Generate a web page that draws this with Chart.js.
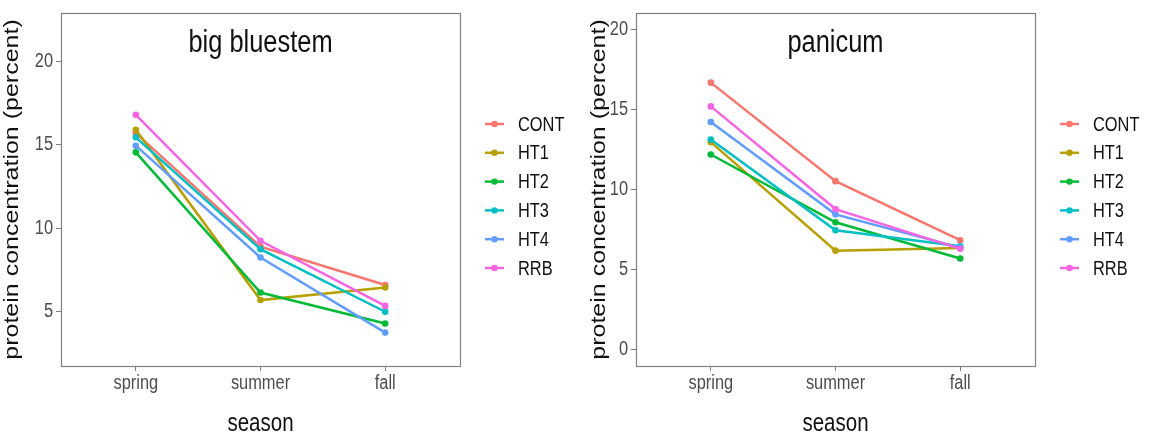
<!DOCTYPE html>
<html>
<head>
<meta charset="utf-8">
<script src="https://cdn.jsdelivr.net/npm/chart.js@4"></script>
<style>
  html, body { margin: 0; padding: 0; background: #fff; }
  #wrap { position: relative; width: 1150px; height: 438px; }
  canvas { position: absolute; top: 0; }
  #left { left: 0; }
  #right { left: 575px; }
</style>
</head>
<body>
<div id="wrap">
  <canvas id="left" width="575" height="438"></canvas>
  <canvas id="right" width="575" height="438"></canvas>
</div>
<script>
// categories
const seasons = ['spring', 'summer', 'fall'];
const treatments = ['CONT', 'HT1', 'HT2', 'HT3', 'HT4', 'RRB'];
const colors = ['#F8766D', '#B79F00', '#00BA38', '#00BFC4', '#619CFF', '#F564E3'];

// big bluestem, protein (%) by season
const bbCONT = [15.7, 8.9, 6.6];
const bbHT1 = [15.9, 5.7, 6.45];
const bbHT2 = [14.55, 6.15, 4.3];
const bbHT3 = [15.45, 8.75, 5.0];
const bbHT4 = [14.95, 8.25, 3.75];
const bbRRB = [16.8, 9.25, 5.35];

// panicum, protein (%) by season
const pnCONT = [16.66, 10.52, 6.84];
const pnHT1 = [12.95, 6.19, 6.35];
const pnHT2 = [12.18, 7.96, 5.7];
const pnHT3 = [13.11, 7.46, 6.46];
const pnHT4 = [14.21, 8.45, 6.38];
const pnRRB = [15.18, 8.78, 6.3];

// tick labels
const bbTicks = [5, 10, 15, 20];
const pnTicks = [0, 5, 10, 15, 20];

const FONT = "'Liberation Sans', Arial, sans-serif";
const SQUEEZE = 0.82; // the source plot is a bit narrow

function makeDatasets(series) {
  return series.map(function(vals, i) {
    return {
      label: treatments[i],
      data: vals.map(function(v, j) { return { x: j, y: v }; }),
      borderColor: colors[i],
      backgroundColor: colors[i],
      borderWidth: 2.5,
      pointRadius: 3.3,
      pointBorderWidth: 0,
      pointHoverRadius: 3.3,
      order: series.length - i
    };
  });
}

// narrow text: squeeze horizontally (or along the glyph height when rotated)
function text(ctx, str, x, y, size, color, align, baseline, rotated) {
  ctx.save();
  ctx.translate(x, y);
  if (rotated) {
    ctx.rotate(-Math.PI / 2);
    ctx.scale(1, SQUEEZE);
  } else {
    ctx.scale(SQUEEZE, 1);
  }
  ctx.font = size + 'px ' + FONT;
  ctx.fillStyle = color;
  ctx.textAlign = align;
  ctx.textBaseline = baseline;
  ctx.fillText(str, 0, 0);
  ctx.restore();
}

// panel border, labels, title inside the panel, legend on the right
const panelPlugin = {
  id: 'panel',
  afterDraw(chart, args, opts) {
    const ctx = chart.ctx;
    const a = chart.chartArea;
    const xs = chart.scales.x;
    const ys = chart.scales.y;
    ctx.save();
    ctx.strokeStyle = '#808080';
    ctx.lineWidth = 1.2;
    ctx.strokeRect(a.left + 0.5, a.top + 0.5, a.right - a.left, a.bottom - a.top);
    ctx.restore();

    text(ctx, opts.title, (a.left + a.right) / 2, 51.5, 31, '#111', 'center', 'alphabetic');

    opts.yTicks.forEach(function(v) {
      text(ctx, String(v), a.left - 8, ys.getPixelForValue(v), 20, '#4d4d4d', 'right', 'middle');
    });
    seasons.forEach(function(s, i) {
      text(ctx, s, xs.getPixelForValue(i), a.bottom + 7, 20, '#4d4d4d', 'center', 'top');
    });
    text(ctx, 'season', (a.left + a.right) / 2, 424, 25, '#111', 'center', 'middle');
    text(ctx, 'protein concentration (percent)', opts.yTitleX, (a.top + a.bottom) / 2,
      25, '#111', 'center', 'middle', true);

    chart.data.datasets.forEach(function(ds, i) {
      const y = 124 + i * 28.8;
      const x0 = a.right + 25;
      ctx.save();
      ctx.strokeStyle = ds.borderColor;
      ctx.lineWidth = 2.5;
      ctx.beginPath();
      ctx.moveTo(x0, y);
      ctx.lineTo(x0 + 19, y);
      ctx.stroke();
      ctx.fillStyle = ds.borderColor;
      ctx.beginPath();
      ctx.arc(x0 + 9.5, y, 3.2, 0, Math.PI * 2);
      ctx.fill();
      ctx.restore();
      text(ctx, ds.label, a.right + 58, y + 1, 20, '#111', 'left', 'middle');
    });
  }
};

function makeChart(id, title, series, yMin, yMax, yTicks, yTitleX) {
  return new Chart(document.getElementById(id), {
    type: 'line',
    data: { datasets: makeDatasets(series) },
    plugins: [panelPlugin],
    options: {
      responsive: false,
      animation: false,
      events: [],
      layout: { padding: { left: 0, right: 115, top: 13, bottom: 0 } },
      plugins: {
        legend: { display: false },
        tooltip: { enabled: false },
        panel: { title: title, yTicks: yTicks, yTitleX: yTitleX }
      },
      scales: {
        x: {
          type: 'linear',
          min: -0.6,
          max: 2.6,
          afterBuildTicks: function(scale) {
            scale.ticks = seasons.map(function(s, i) { return { value: i }; });
          },
          afterFit: function(scale) { scale.height = 72; },
          ticks: { display: false },
          grid: { drawOnChartArea: false, drawTicks: true, tickLength: 5, color: '#808080' },
          border: { display: false }
        },
        y: {
          min: yMin,
          max: yMax,
          afterBuildTicks: function(scale) {
            scale.ticks = yTicks.map(function(v) { return { value: v }; });
          },
          afterFit: function(scale) { scale.width = 61; },
          ticks: { display: false },
          grid: { drawOnChartArea: false, drawTicks: true, tickLength: 5, color: '#808080' },
          border: { display: false }
        }
      }
    }
  });
}

makeChart('left', 'big bluestem', [bbCONT, bbHT1, bbHT2, bbHT3, bbHT4, bbRRB], 1.75, 22.9, bbTicks, 12);
makeChart('right', 'panicum', [pnCONT, pnHT1, pnHT2, pnHT3, pnHT4, pnRRB], -1, 21, pnTicks, 24);
</script>
</body>
</html>
